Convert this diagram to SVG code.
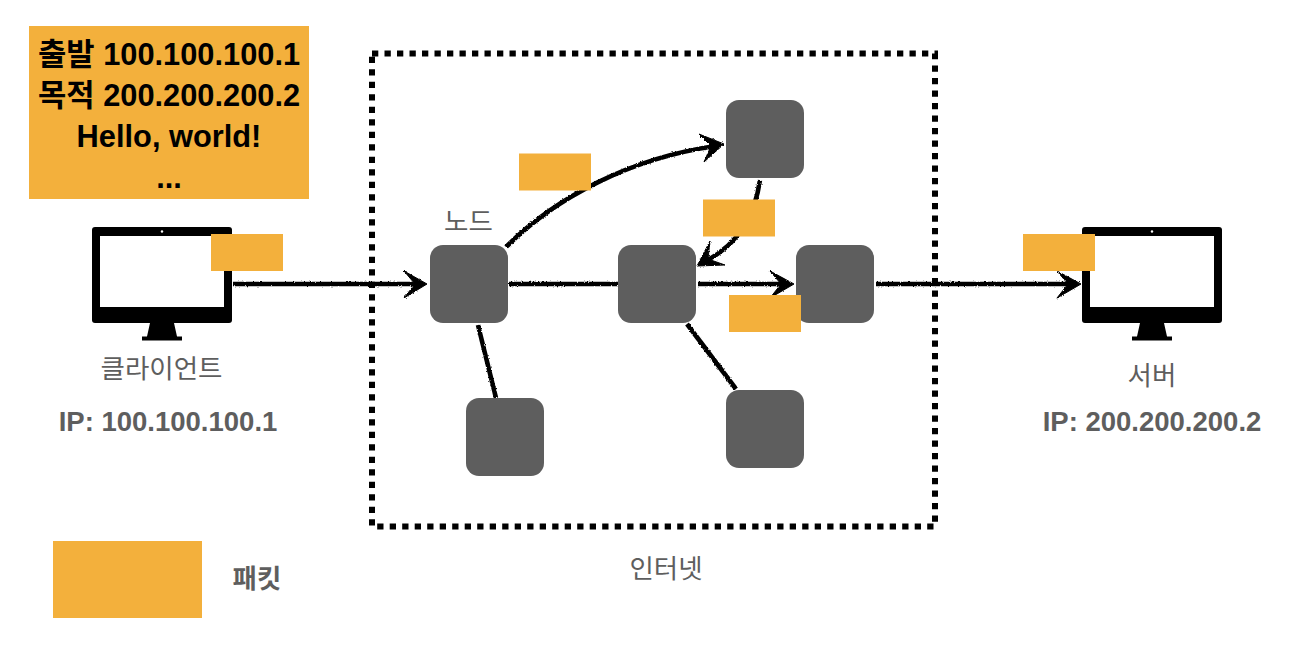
<svg xmlns="http://www.w3.org/2000/svg" width="1316" height="650" viewBox="0 0 1316 650">
<style>
text{font-family:"Liberation Sans","Noto Sans CJK KR",sans-serif;text-anchor:middle}
.pk{fill:#f3b03c}
.n{fill:#5e5e5e}
.lb{fill:#5e5e5e;font-size:26.500px}
.b{font-weight:700}
.ip{font-size:27.500px}
.h{fill:#000;font-size:30.800px;font-weight:700}
.c{fill:none;stroke:#000;stroke-width:4.600}
.ah{fill:#000;stroke:#000;stroke-width:1;stroke-linejoin:miter}
</style>
<defs>
<filter id="rough" x="-5%" y="-5%" width="110%" height="110%">
<feTurbulence type="fractalNoise" baseFrequency="0.7" numOctaves="2" seed="4"/>
<feDisplacementMap in="SourceGraphic" scale="2.600" xChannelSelector="R" yChannelSelector="G"/>
</filter>
<g id="mon">
<rect x="0" y="0" width="140" height="96" rx="3" fill="#000"/>
<rect x="8" y="9" width="124" height="71" fill="#fff"/>
<circle cx="70" cy="4.500" r="1.200" fill="#fff"/>
<path d="M58 96H82L85 109.500H90V113.500H50V109.500H55Z" fill="#000"/>
</g>
</defs>
<rect width="1316" height="650" fill="#fff"/>
<rect id="frame" x="372" y="53.500" width="563" height="473" fill="none" stroke="#000" stroke-width="6" stroke-dasharray="6.300 6.200"/>
<g id="connectors" filter="url(#rough)">
<path class="c" d="M233 284H420"/><path class="ah" d="M404 271L427 284L404 298L415 284Z"/>
<path class="c" d="M506 247C555 198 630 158 716 146"/><path class="ah" d="M699 134L724 144L704 162L711 146Z"/>
<path class="c" d="M760 180C755 215 738 245 704 262"/><path class="ah" d="M710 241L697 266L725 265L708 259Z"/>
<path class="c" d="M509 284H618"/>
<path class="c" d="M698 284H786"/><path class="ah" d="M770 271L794 284L770 298L781 284Z"/>
<path class="c" d="M876 284H1072"/><path class="ah" d="M1057 271L1081 284L1057 298L1068 284Z"/>
<path class="c" d="M478 325L496 398"/>
<path class="c" d="M687 324L736 389"/>
</g>
<g id="node-1"><rect class="n" x="430" y="245" width="78" height="78" rx="13"/></g>
<g id="node-2"><rect class="n" x="618" y="245" width="78" height="78" rx="13"/></g>
<g id="node-3"><rect class="n" x="796" y="245" width="78" height="78" rx="13"/></g>
<g id="node-4"><rect class="n" x="726" y="100" width="78" height="78" rx="13"/></g>
<g id="node-5"><rect class="n" x="466" y="398" width="78" height="78" rx="13"/></g>
<g id="node-6"><rect class="n" x="726" y="390" width="78" height="78" rx="13"/></g>
<g id="client">
<use href="#mon" x="92" y="227"/>
<text class="lb" x="161.500" y="378">클라이언트</text>
<text class="lb b ip" x="168" y="431">IP: 100.100.100.1</text>
</g>
<g id="server">
<use href="#mon" x="1082" y="227"/>
<text class="lb" x="1152" y="385">서버</text>
<text class="lb b ip" x="1152" y="431">IP: 200.200.200.2</text>
</g>
<g id="packet-main">
<rect class="pk" x="29" y="26" width="280" height="173"/>
<text class="h" x="169" y="65">출발 100.100.100.1</text>
<text class="h" x="169" y="106">목적 200.200.200.2</text>
<text class="h" x="169" y="147">Hello, world!</text>
<text class="h" x="169" y="188">...</text>
</g>
<g id="packets">
<rect class="pk" x="211" y="234" width="72" height="37"/>
<rect class="pk" x="519" y="153.500" width="72" height="37"/>
<rect class="pk" x="703" y="199.500" width="72" height="37"/>
<rect class="pk" x="729" y="295" width="72" height="37"/>
<rect class="pk" x="1023" y="234" width="72" height="37"/>
</g>
<g id="labels">
<text class="lb" x="468.500" y="231">노드</text>
<text class="lb" x="666" y="578">인터넷</text>
</g>
<g id="legend">
<rect class="pk" x="53" y="541" width="149" height="77"/>
<text class="lb b" x="257" y="588">패킷</text>
</g>
</svg>
